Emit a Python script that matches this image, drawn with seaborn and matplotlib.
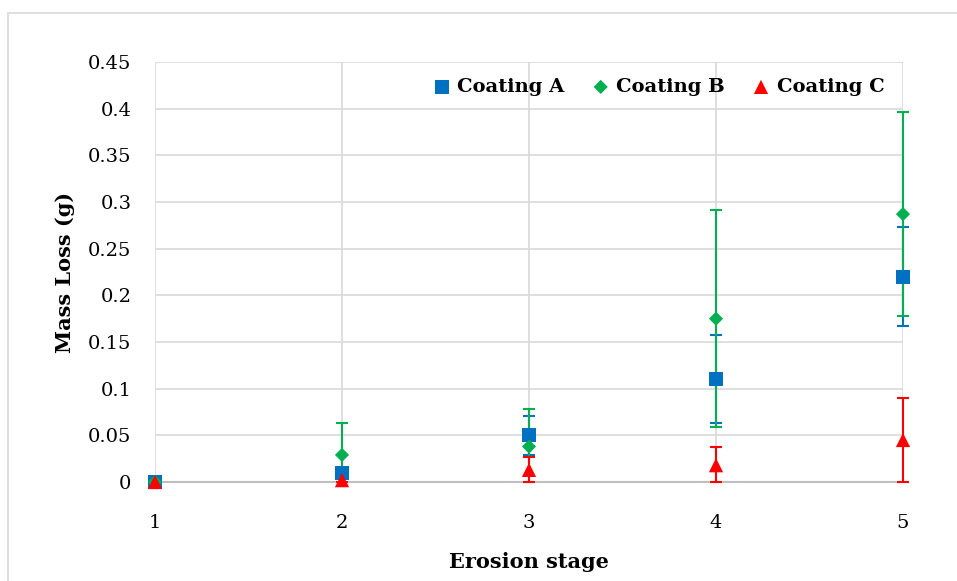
import matplotlib
matplotlib.use("Agg")
import matplotlib.pyplot as plt
import seaborn as sns
import pandas as pd
from matplotlib.patches import Rectangle

# Data
stages = [1, 2, 3, 4, 5]
coating_a = [0.0, 0.010, 0.050, 0.110, 0.220]
coating_a_err = [0.0, 0.004, 0.021, 0.047, 0.053]
coating_b = [0.0, 0.029, 0.038, 0.175, 0.287]
coating_b_err = [0.0, 0.034, 0.040, 0.116, 0.109]
coating_c = [0.0, 0.002, 0.013, 0.018, 0.045]
coating_c_err = [0.0, 0.002, 0.014, 0.019, 0.045]
names = ["Coating A", "Coating B", "Coating C"]
colors = ["#0070C0", "#00B050", "#FF0000"]
markers = ["s", "D", "^"]
marker_sizes = [100, 52, 105]
y_ticks = [0, 0.05, 0.1, 0.15, 0.2, 0.25, 0.3, 0.35, 0.4, 0.45]
y_labels = ["0", "0.05", "0.1", "0.15", "0.2", "0.25", "0.3", "0.35", "0.4", "0.45"]

df = pd.DataFrame({
    "stage": stages * 3,
    "loss": coating_a + coating_b + coating_c,
    "err": coating_a_err + coating_b_err + coating_c_err,
    "coating": [n for n in names for _ in stages],
})

sns.set_style("white")
plt.rcParams["font.family"] = ["DejaVu Serif"]
plt.rcParams["text.color"] = "black"
plt.rcParams["axes.labelcolor"] = "black"
plt.rcParams["xtick.color"] = "black"
plt.rcParams["ytick.color"] = "black"

fig = plt.figure(figsize=(9.57, 5.81), dpi=100)
ax = fig.add_axes([155 / 957, 1 - 482 / 581, (903 - 155) / 957, (482 - 62) / 581])

# chart area border
fig.patches.append(Rectangle((8 / 957, -0.05), 1.0, 1 - 13 / 581 + 0.05,
                             transform=fig.transFigure, fill=False,
                             edgecolor="#D9D9D9", linewidth=1.2))

# error bars (lower part stops at zero, like the original)
for name, col in zip(names, colors):
    sub = df[df["coating"] == name]
    lower = sub[["err", "loss"]].min(axis=1)
    ax.errorbar(sub["stage"], sub["loss"], yerr=[lower, sub["err"]], fmt="none",
                ecolor=col, elinewidth=1.5, capsize=4.3, capthick=1.5,
                zorder=3, clip_on=False)

for name, col, mk, sz in zip(names, colors, markers, marker_sizes):
    sub = df[df["coating"] == name]
    sns.scatterplot(data=sub, x="stage", y="loss", color=col, marker=mk, s=sz,
                    edgecolor="none", linewidth=0, ax=ax, zorder=4,
                    clip_on=False, label=name)

ax.set_xlim(1, 5)
ax.set_ylim(0, 0.45)
ax.set_xticks(stages)
ax.set_yticks(y_ticks)
ax.set_yticklabels(y_labels)
ax.grid(True, color="#D9D9D9", linewidth=1.2)
ax.set_axisbelow(True)
for side in ["top", "right", "left"]:
    ax.spines[side].set_visible(False)
ax.spines["bottom"].set_color("#BFBFBF")
ax.spines["bottom"].set_linewidth(1.5)
ax.tick_params(axis="both", length=0, labelsize=14)
ax.tick_params(axis="y", pad=17)
ax.tick_params(axis="x", pad=23)

ax.set_xlabel("Erosion stage", fontsize=15, fontweight="bold", labelpad=14.5)
ax.set_ylabel("Mass Loss (g)", fontsize=15, fontweight="bold", labelpad=9)

leg = ax.legend(loc="upper right", bbox_to_anchor=(0.988, 0.985), ncol=3, frameon=False,
                prop={"weight": "bold", "size": 14}, handlelength=0.9,
                handletextpad=0.35, columnspacing=1.4, borderaxespad=0.1)

fig.savefig("out.png", dpi=100)
